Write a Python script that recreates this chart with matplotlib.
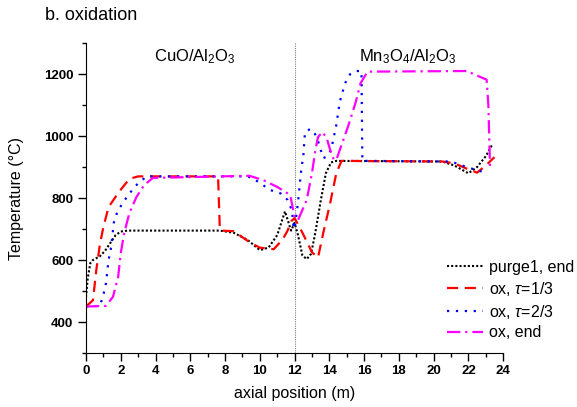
import numpy as np
import matplotlib
matplotlib.use("Agg")
import matplotlib.pyplot as plt
from matplotlib.ticker import MultipleLocator

plt.rcParams['font.family'] = ['Liberation Sans', 'DejaVu Sans']
plt.rcParams['mathtext.fontset'] = 'custom'
plt.rcParams['mathtext.rm'] = 'Liberation Sans'
plt.rcParams['mathtext.it'] = 'Liberation Sans:italic'

# purge1, end
x_purge = [0, 0.1, 0.25, 0.4, 0.8, 1.1, 1.4, 1.7, 2.0, 2.4, 7.7, 8.5, 9.3, 10.0, 10.5,
           11.0, 11.45, 11.8, 12.0, 12.2, 12.45, 12.7, 12.95, 13.2, 13.5, 13.8, 14.1,
           14.4, 20.5, 21.2, 22.0, 22.5, 23.0, 23.4]
T_purge = [480, 540, 590, 600, 612, 630, 655, 680, 692, 695, 695, 688, 665, 632, 640,
           680, 757, 695, 720, 680, 615, 603, 620, 690, 790, 880, 915,
           920, 918, 905, 880, 900, 935, 975]

# ox, tau=1/3
x_ox1 = [0, 0.4, 0.6, 0.8, 1.0, 1.3, 1.9, 2.5, 3.0, 7.6, 7.7, 7.8, 8.5, 9.4, 10.0,
         10.8, 11.3, 11.6, 11.8, 12.0, 12.3, 12.7, 13.0, 13.35, 13.65, 14.05, 14.4,
         14.7, 20.5, 21.2, 21.9, 22.5, 23.0, 23.5]
T_ox1 = [450, 470, 570, 650, 706, 771, 820, 862, 870, 870, 700, 695, 693, 658, 640,
         635, 665, 695, 725, 735, 705, 660, 625, 608, 687, 784, 880,
         920, 918, 912, 895, 882, 905, 932]

# ox, tau=2/3
x_ox2 = [0, 0.8, 1.0, 1.15, 1.3, 1.45, 1.6, 1.8, 2.1, 2.5, 3.0, 3.5, 9.3, 9.6, 10.6,
         11.2, 11.6, 11.85, 11.95, 12.05, 12.2, 12.4, 12.5, 12.6, 12.9, 13.1, 13.3,
         13.65, 13.9, 14.1, 14.4, 14.6, 14.9, 15.2, 15.5, 15.85, 15.9, 16.0, 21.0,
         21.9, 22.5, 23.1]
T_ox2 = [450, 452, 487, 525, 600, 642, 720, 755, 783, 815, 848, 870, 870, 864, 826,
         815, 794, 760, 700, 720, 787, 900, 932, 1013, 1023, 1015, 993,
         929, 935, 955, 1035, 1110, 1170, 1200, 1210, 1210, 920, 920, 918,
         900, 890, 880]

# ox, end
x_oxend = [0, 1.15, 1.55, 1.85, 2.0, 2.2, 2.5, 2.9, 3.35, 3.85, 9.4, 10.2, 11.0, 11.75,
           12.0, 12.2, 12.7, 13.0, 13.2, 13.35, 13.6, 13.85, 14.05, 14.25, 14.4, 15.1,
           15.5, 15.8, 16.2, 21.9, 23.05, 23.15, 23.25]
T_oxend = [450, 452, 481, 545, 622, 687, 752, 803, 842, 865, 872, 858, 836, 810,
           739, 729, 794, 880, 955, 997, 1013, 994, 955, 925, 923, 1035,
           1106, 1171, 1208, 1210, 1182, 1100, 890]

fig = plt.figure(figsize=(5.77, 4.07), dpi=100)
ax = fig.add_axes([0.149, 0.1327, 0.723, 0.7613])

ax.axvline(12, color='gray', linestyle=(0, (1, 1)), linewidth=0.8)

ax.plot(x_purge, T_purge, color='black', linestyle=(0, (1, 1)), linewidth=1.5, label='purge1, end')
ax.plot(x_ox1, T_ox1, color='red', linestyle=(0, (5, 3)), linewidth=1.6, label=r'ox, $\tau$=1/3')
ax.plot(x_ox2, T_ox2, color='blue', linestyle=(0, (1, 3)), linewidth=1.6, label=r'ox, $\tau$=2/3')
ax.plot(x_oxend, T_oxend, color='magenta', linestyle=(0, (6, 2.2, 1, 2.2)), linewidth=1.6, label='ox, end')

ax.set_xlim(0, 24)
ax.set_ylim(300, 1300)
ax.xaxis.set_major_locator(MultipleLocator(2))
ax.xaxis.set_minor_locator(MultipleLocator(1))
ax.yaxis.set_minor_locator(MultipleLocator(100))
ax.set_yticks([400, 600, 800, 1000, 1200])
ax.tick_params(which='major', direction='out', length=5.5, width=1, labelsize=9.5)
ax.tick_params(which='minor', direction='out', length=3, width=1)
for lab in ax.get_xticklabels() + ax.get_yticklabels():
    lab.set_fontweight('bold')

ax.spines['top'].set_visible(False)
ax.spines['right'].set_visible(False)

ax.set_xlabel('axial position (m)', fontsize=11.5)
ax.set_ylabel('Temperature (\u00b0C)', fontsize=11.5)
ax.xaxis.set_label_coords(0.5, -0.105)
ax.yaxis.set_label_coords(-0.148, 0.5)

ax.text(6.27, 1255, r'CuO/Al$_2$O$_3$', fontsize=12, ha='center', va='center')
ax.text(18.5, 1255, r'Mn$_3$O$_4$/Al$_2$O$_3$', fontsize=12, ha='center', va='center')

fig.text(45 / 577, 1 - 15 / 407, 'b. oxidation', fontsize=13, ha='left', va='center')

ax.legend(loc='upper left', bbox_to_anchor=(0.866, 0.30), frameon=False, fontsize=11.5,
          borderpad=0, borderaxespad=0, handlelength=2.25, handletextpad=0.37,
          labelspacing=0.3)

fig.savefig('out.png', dpi=100)
